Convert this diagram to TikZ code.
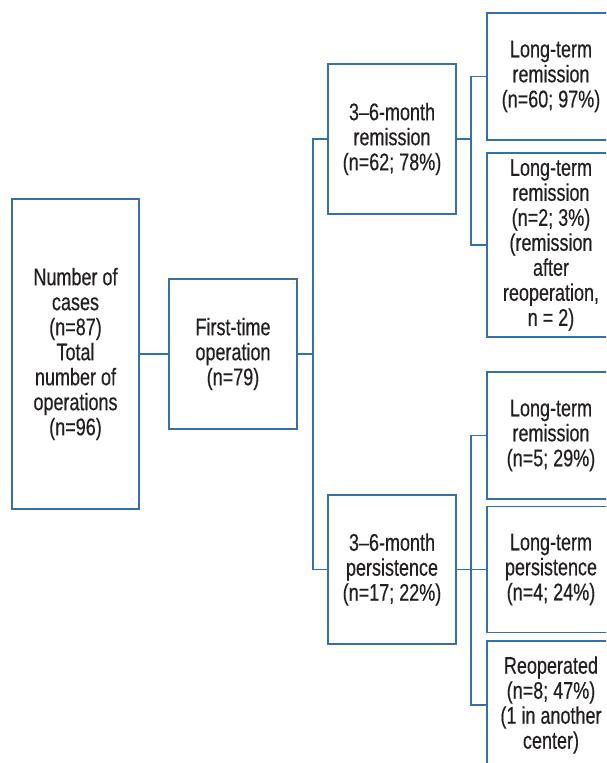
\documentclass[tikz,border=0pt]{standalone}
\usepackage{fontspec}
\setmainfont[FakeStretch=0.75, FakeBold=0.4]{Liberation Sans}
\usepackage{tikz}

\definecolor{boxblue}{RGB}{52,112,170}
\definecolor{textgray}{RGB}{35,31,32}

\begin{document}
\begin{tikzpicture}[x=1pt, y=-1pt,
    box/.style={draw=boxblue, line width=1.6pt, align=center, inner sep=0pt,
        text=textgray, minimum width=128pt, font=\fontsize{24}{25}\selectfont},
    link/.style={draw=boxblue, line width=1.6pt},
]
    % Frame
    \useasboundingbox (0,0) rectangle (606,763);
    \clip (0,0) rectangle (606,763);

    % First two levels
    \node[box, minimum width=127pt, minimum height=310pt] (cases) at (75.5,354)
        {Number of\\cases\\(n=87)\\Total\\number of\\operations\\(n=96)};
    \node[box, minimum height=150pt] (first) at (233,354)
        {First-time\\operation\\(n=79)};

    % 3-6 month outcome
    \node[box, minimum height=150pt] (rem36) at (392,139)
        {3–6-month\\remission\\(n=62; 78\%)};
    \node[box, minimum height=149pt] (per36) at (392,569.5)
        {3–6-month\\persistence\\(n=17; 22\%)};

    % Long-term outcome after remission
    \node[box, minimum height=127pt] (ltr1) at (551,76.5)
        {Long-term\\remission\\(n=60; 97\%)};
    \node[box, minimum height=184pt] (ltr2) at (551,245)
        {Long-term\\remission\\(n=2; 3\%)\\(remission\\after\\reoperation,\\n = 2)};

    % Long-term outcome after persistence
    \node[box, minimum height=127pt] (ltr3) at (551,435.5)
        {Long-term\\remission\\(n=5; 29\%)};
    \node[box, minimum height=126pt] (ltp) at (551,569.5)
        {Long-term\\persistence\\(n=4; 24\%)};
    \node[box, minimum height=128pt] (reop) at (551,705)
        {Reoperated\\(n=8; 47\%)\\(1 in another\\center)};

    % Branch points
    \coordinate (split1) at (313,354);
    \coordinate (split2) at (471,139);
    \coordinate (split3) at (471,569.5);

    % Connectors
    \draw[link] (cases.east) -- (first.west);
    \draw[link] (first.east) -- (split1);
    \draw[link] (rem36.west) -| (split1) |- (per36.west);
    \draw[link] (rem36.east) -- (split2);
    \draw[link] (ltr1.west) -| (split2) |- (ltr2.west);
    \draw[link] (per36.east) -- (ltp.west);
    \draw[link] (ltr3.west) -| (split3) |- (reop.west);
\end{tikzpicture}
\end{document}
